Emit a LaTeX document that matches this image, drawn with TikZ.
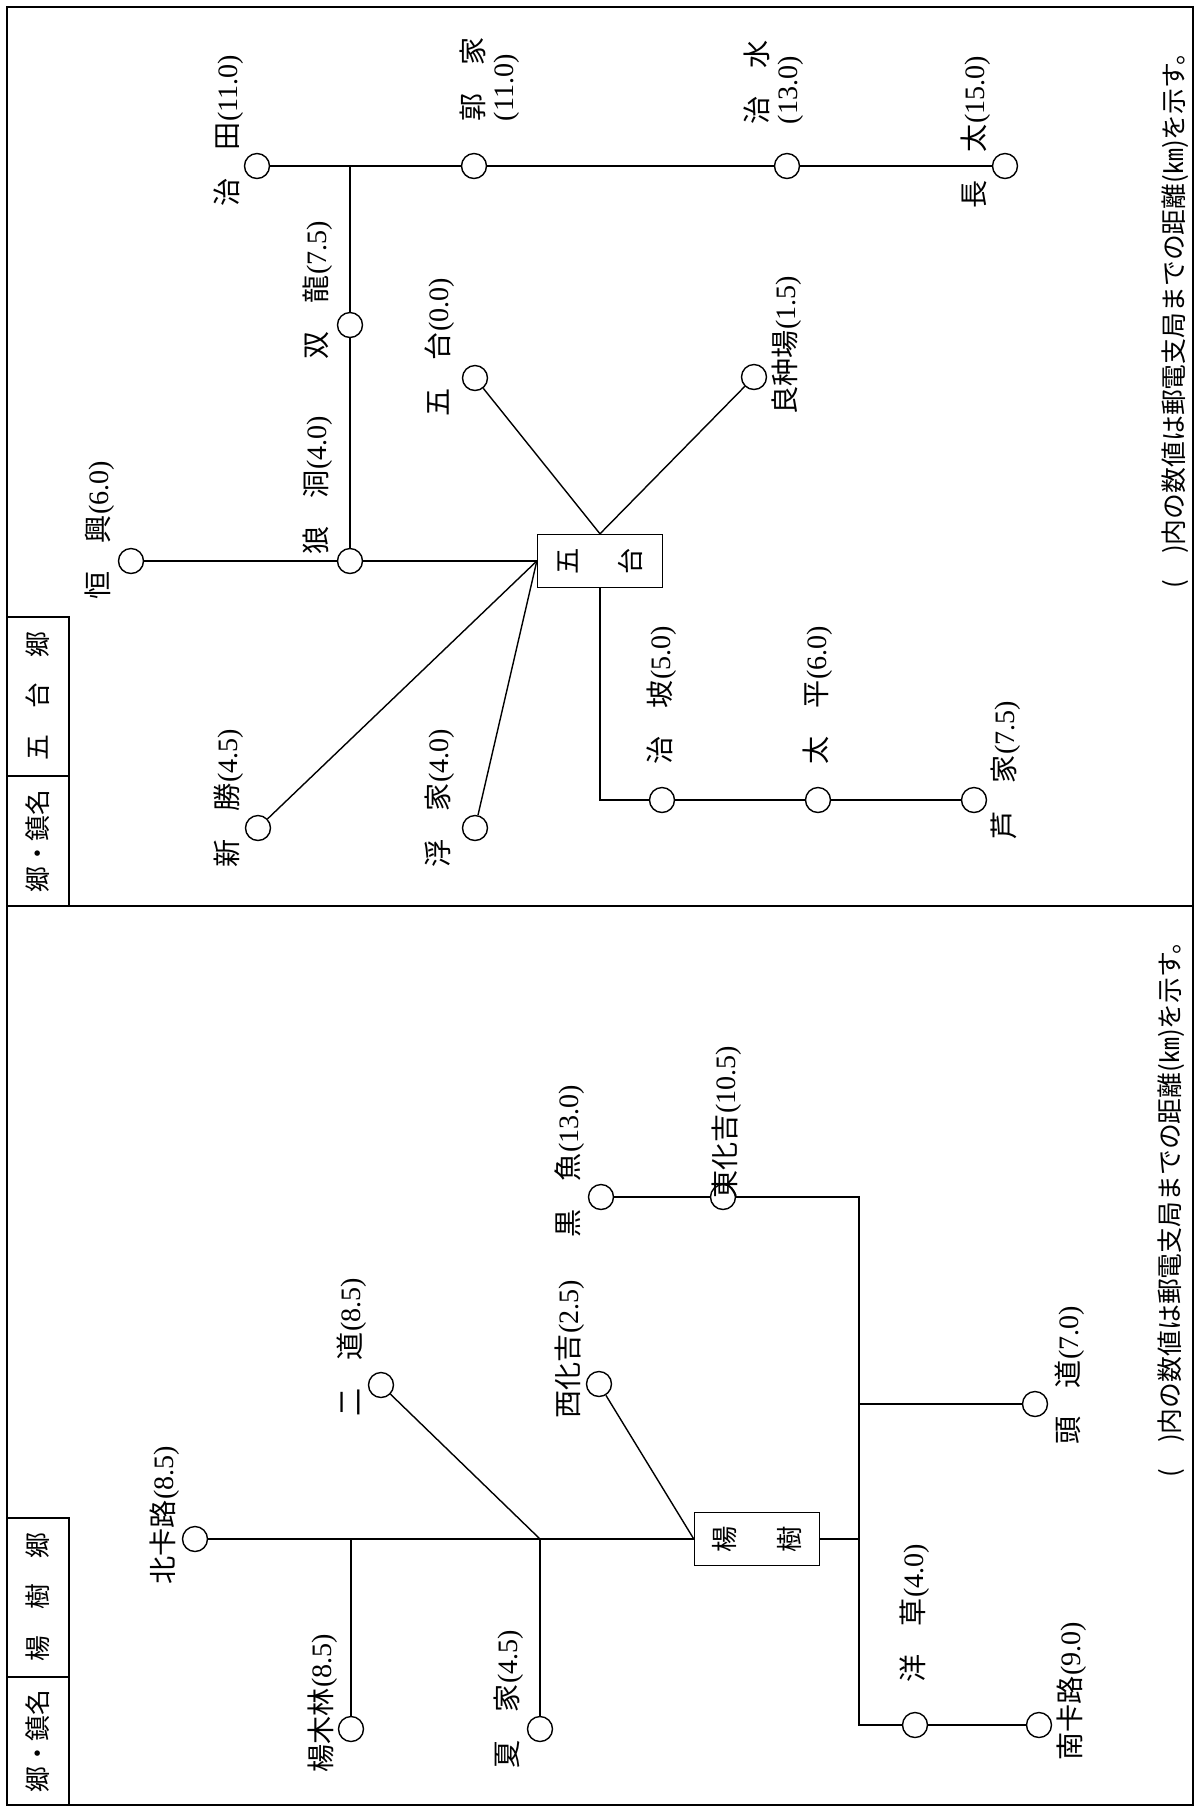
\documentclass[tikz,border=0pt]{standalone}
\usepackage{fontspec}
\usepackage{graphicx}
\setmainfont{Liberation Serif}
\newfontfamily\jp{Noto Sans CJK JP}
\newcommand{\lbl}[2]{{\jp #1}#2}
\begin{document}
\begin{tikzpicture}[x=0.02cm, y=-0.02cm, line width=0.8pt,
  stn/.style={circle, draw, minimum size=0.5cm, inner sep=0pt},
  post/.style={draw, minimum width=2.5cm, minimum height=1.06cm, inner sep=0pt, font=\jp\fontsize{15}{18}\selectfont},
  nm/.style={rotate=90, anchor=west, inner sep=0pt, align=left, font=\fontsize{16}{17}\selectfont},
  hd/.style={rotate=90, inner sep=0pt, font=\jp\fontsize{14.7}{17}\selectfont},
  frame/.style={line width=1.1pt}]
                \useasboundingbox (0,0) rectangle (1199,1810);
                % 绘制外框
                \draw[frame] (7,7) rectangle (1193,1805);
                \draw[frame] (7,906) -- (1193,906);
                % 绘制表头
                \draw (7,617) rectangle (69,906);
                \draw (7,776) -- (69,776);
                \node[hd] (h1) at (38,841) {郷・鎮名};
                \node[hd] (h2) at (38,696) {五　台　郷};
                \draw (7,1518) rectangle (69,1805);
                \draw (7,1677) -- (69,1677);
                \node[hd] (h3) at (38,1741) {郷・鎮名};
                \node[hd] (h4) at (38,1597) {楊　樹　郷};
                % 五台郷
                \node[post] (wutai) at (600,561) {\rotatebox{90}{五}\hspace{0.8cm}\rotatebox{90}{台}};
                \node[stn] (zhitian) at (257,166) {};
                \node[stn] (guojia) at (474,166) {};
                \node[stn] (zhishui) at (787,166) {};
                \node[stn] (changtai) at (1005,166) {};
                \node[stn] (shuanglong) at (350,325) {};
                \node[stn] (langdong) at (350,561) {};
                \node[stn] (hengxing) at (131,561) {};
                \node[stn] (wutaiv) at (475,378) {};
                \node[stn] (liangzhong) at (754,377) {};
                \node[stn] (xinsheng) at (258,828) {};
                \node[stn] (fujia) at (475,828) {};
                \node[stn] (zhipo) at (662,800) {};
                \node[stn] (taiping) at (818,800) {};
                \node[stn] (lujia) at (974,800) {};
                \coordinate (j1) at (350,166);
                \coordinate (c1) at (600,800);
                % 绘制连线
                \draw (zhitian) -- (guojia) -- (zhishui) -- (changtai);
                \draw (j1) -- (shuanglong) -- (langdong);
                \draw (hengxing) -- (langdong) -- (wutai.west);
                \draw (wutaiv) -- (wutai.north);
                \draw (liangzhong) -- (wutai.north);
                \draw (xinsheng) -- (wutai.west);
                \draw (fujia) -- (wutai.west);
                \draw (wutai.south) -- (c1) -- (zhipo) -- (taiping) -- (lujia);
                % 标记地名
                \node[nm] (l-zhitian) at (229,207) {\lbl{治　田}{(11.0)}};
                \node[nm] (l-guojia) at (490,122) {\lbl{郭　家}{}\\(11.0)};
                \node[nm] (l-zhishui) at (774,125) {\lbl{治　水}{}\\(13.0)};
                \node[nm] (l-changtai) at (976,209) {\lbl{長　太}{(15.0)}};
                \node[nm] (l-shuanglong) at (318,360) {\lbl{双　龍}{(7.5)}};
                \node[nm] (l-langdong) at (318,555) {\lbl{狼　洞}{(4.0)}};
                \node[nm] (l-hengxing) at (100,600) {\lbl{恒　興}{(6.0)}};
                \node[nm] (l-wutaiv) at (440,417) {\lbl{五　台}{(0.0)}};
                \node[nm] (l-liangzhong) at (787,415) {\lbl{良种場}{(1.5)}};
                \node[nm] (l-xinsheng) at (229,868) {\lbl{新　勝}{(4.5)}};
                \node[nm] (l-fujia) at (440,868) {\lbl{浮　家}{(4.0)}};
                \node[nm] (l-zhipo) at (662,765) {\lbl{治　坡}{(5.0)}};
                \node[nm] (l-taiping) at (818,765) {\lbl{太　平}{(6.0)}};
                \node[nm] (l-lujia) at (1006,840) {\lbl{芦　家}{(7.5)}};
                \node[hd, anchor=west] (note1) at (1175,589) {(　)内の数値は郵電支局までの距離(㎞)を示す。};
                % 楊樹郷
                \node[post] (yangshu) at (757,1539) {\rotatebox{90}{楊}\hspace{0.8cm}\rotatebox{90}{樹}};
                \node[stn] (beika) at (195,1539) {};
                \node[stn] (yangmulin) at (351,1729) {};
                \node[stn] (xiajia) at (540,1729) {};
                \node[stn] (erdao) at (381,1385) {};
                \node[stn] (xihuaji) at (599,1384) {};
                \node[stn] (heiyu) at (601,1197) {};
                \node[stn] (donghuaji) at (723,1197) {};
                \node[stn] (toudao) at (1035,1404) {};
                \node[stn] (yangcao) at (915,1725) {};
                \node[stn] (nanka) at (1039,1725) {};
                \coordinate (j2) at (351,1539);
                \coordinate (j3) at (540,1539);
                \coordinate (j4) at (859,1539);
                \coordinate (j5) at (859,1404);
                \coordinate (c2) at (859,1197);
                \coordinate (c3) at (859,1725);
                % 绘制连线
                \draw (beika) -- (j2) -- (j3) -- (yangshu.west);
                \draw (j2) -- (yangmulin);
                \draw (j3) -- (xiajia);
                \draw (erdao) -- (j3);
                \draw (xihuaji) -- (yangshu.west);
                \draw (yangshu.east) -- (j4);
                \draw (heiyu) -- (donghuaji) -- (c2) -- (c3) -- (yangcao) -- (nanka);
                \draw (j5) -- (toudao);
                % 标记地名
                \node[nm] (l-beika) at (165,1585) {\lbl{北卡路}{(8.5)}};
                \node[nm] (l-yangmulin) at (323,1773) {\lbl{楊木林}{(8.5)}};
                \node[nm] (l-xiajia) at (509,1769) {\lbl{夏　家}{(4.5)}};
                \node[nm] (l-erdao) at (352,1417) {\lbl{二　道}{(8.5)}};
                \node[nm] (l-xihuaji) at (570,1419) {\lbl{西化吉}{(2.5)}};
                \node[nm] (l-heiyu) at (570,1238) {\lbl{黒　魚}{(13.0)}};
                \node[nm] (l-donghuaji) at (727,1199) {\lbl{東化吉}{(10.5)}};
                \node[nm] (l-toudao) at (1070,1445) {\lbl{頭　道}{(7.0)}};
                \node[nm] (l-yangcao) at (915,1683) {\lbl{洋　草}{(4.0)}};
                \node[nm] (l-nanka) at (1072,1761) {\lbl{南卡路}{(9.0)}};
                \node[hd, anchor=west] (note2) at (1171,1478) {(　)内の数値は郵電支局までの距離(㎞)を示す。};
            \end{tikzpicture}
\end{document}
